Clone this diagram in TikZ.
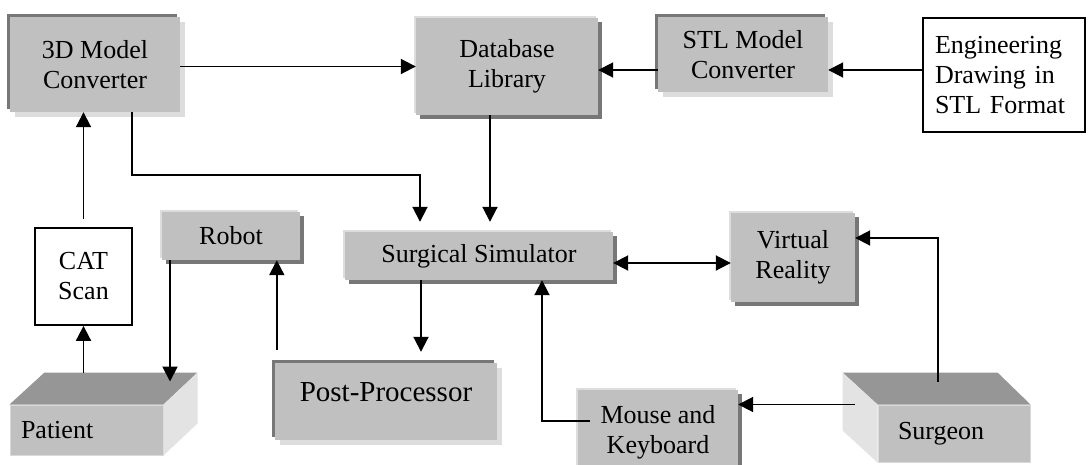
\documentclass[tikz,border=0pt]{standalone}
\usepackage{fontspec}
\setmainfont{Liberation Serif}
\usetikzlibrary{arrows.meta,shadows}
\definecolor{boxgray}{RGB}{192,192,192}
\definecolor{darkedge}{RGB}{119,119,119}
\definecolor{lightedge}{RGB}{221,221,221}
\definecolor{topface}{RGB}{150,150,150}
\definecolor{sideface}{RGB}{227,227,227}
\newcommand\boxfont{\fontsize{26}{30}\selectfont}
\begin{document}
\begin{tikzpicture}[x=1pt, y=-1pt,
  raised/.style={fill=boxgray, inner sep=0pt, align=center, font=\boxfont,
    general shadow={shadow xshift=4pt, shadow yshift=-4pt, fill=darkedge},
    general shadow={shadow xshift=-2pt, shadow yshift=2pt, fill=lightedge}},
  sunken/.style={fill=boxgray, inner sep=0pt, align=center, font=\boxfont,
    general shadow={shadow xshift=5pt, shadow yshift=-5pt, fill=lightedge},
    general shadow={shadow xshift=-3pt, shadow yshift=3pt, fill=darkedge}},
  plainbox/.style={draw, line width=1.8pt, fill=white, inner sep=0pt, font=\boxfont},
  face/.style={fill=boxgray, draw=black!15, line width=1pt, inner sep=0pt, font=\boxfont},
  arr/.style={line width=1.9pt, -{Triangle[length=15pt,width=15pt]}},
  arrtwo/.style={line width=1.9pt, {Triangle[length=15pt,width=15pt]}-{Triangle[length=15pt,width=15pt]}}]
\clip (0,0) rectangle (1088,464);
\def\dx{34}
\def\dy{32}

% top row
\node[sunken, minimum width=170, minimum height=95] (conv3d) at (95,64.5) {3D Model\\Converter};
\node[raised, minimum width=182, minimum height=97] (dblib) at (507,66.5) {Database\\Library};
\node[sunken, minimum width=170, minimum height=75] (stlconv) at (743,54.5) {STL Model\\Converter};
\node[plainbox, text width=138, inner xsep=12, minimum height=114, align=left] (engdraw) at (1004,75) {Engineering\\Drawing in\\STL Format};

% middle row
\node[plainbox, minimum width=97, minimum height=97, align=center] (catscan) at (83.5,276.5) {CAT\\Scan};
\node[raised, minimum width=138, minimum height=48] (robot) at (231,236) {Robot};
\node[raised, minimum width=268, minimum height=48] (surgsim) at (479,256) {Surgical Simulator};
\node[raised, minimum width=124, minimum height=89] (vr) at (793,257.5) {Virtual\\Reality};

% bottom row
\node[sunken, minimum width=222, minimum height=77, text height=21pt, text depth=21pt, font=\fontsize{29}{33}\selectfont] (pp) at (386,401.5) {Post-Processor};
\node[raised, minimum width=160, minimum height=85] (mouse) at (658,432.5) {Mouse and\\Keyboard};

% patient block
\node[face, text width=131, inner xsep=11, minimum height=50, align=left] (patient) at (86.5,430) {Patient};
\fill[topface] (patient.north west) -- (patient.north east) -- ([shift={(\dx,-\dy)}]patient.north east) -- ([shift={(\dx+1,-\dy)}]patient.north west) -- cycle;
\fill[sideface] (patient.north east) -- (patient.south east) -- ([shift={(\dx,-\dy)}]patient.south east) -- ([shift={(\dx,-\dy)}]patient.north east) -- cycle;
\coordinate (patientback) at ([yshift=32pt]patient.north west);
\coordinate (patientmid) at ([yshift=23pt]patient.north east);

% surgeon block
\node[face, text width=112, inner xsep=20, minimum height=57, align=left] (surgeon) at (954,433.5) {Surgeon};
\fill[topface] (surgeon.north west) -- (surgeon.north east) -- ([shift={(-\dx+1,-\dy)}]surgeon.north east) -- ([shift={(-\dx-1,-\dy)}]surgeon.north west) -- cycle;
\fill[sideface] (surgeon.north west) -- (surgeon.south west) -- ([shift={(-\dx-1,-\dy)}]surgeon.south west) -- ([shift={(-\dx-1,-\dy)}]surgeon.north west) -- cycle;

% edges
\coordinate (stlrow) at (0,70);
\coordinate (bend) at (420,175);
\draw[arr] (dblib.west -| conv3d.east) -- (dblib.west); % 3D model to library
\draw[arr] (stlconv.west |- stlrow) -- (dblib.east |- stlrow); % STL to library
\draw[arr] (engdraw.west |- stlrow) -- (stlconv.east |- stlrow); % drawing to STL
\draw[arr, shorten >=10pt] ([xshift=-17pt]dblib.south) -- ([xshift=-17pt]dblib.south |- surgsim.north); % library to simulator
\draw[arr, shorten >=10pt] ([xshift=37pt]conv3d.south) |- (bend) -- (bend |- surgsim.north); % 3D model to simulator
\draw[arr, shorten <=8pt] (catscan.north) -- (catscan.north |- conv3d.south); % scan to 3D model
\draw[arr] (catscan.south |- patientback) -- (catscan.south); % patient to scan
\draw[arr] ([xshift=-61pt]robot.south) -- ([xshift=-61pt]robot.south |- patientmid); % robot to patient
\draw[arr, shorten <=13pt] ([xshift=2pt]pp.north west) -- ([xshift=2pt]pp.north west |- robot.south); % post-processor to robot
\draw[arr, shorten >=11pt] ([xshift=-58pt]surgsim.south) -- ([xshift=-58pt]surgsim.south |- pp.north); % simulator to post-processor
\draw[arr] ([shift={(12,-11.5)}]mouse.west) -| ([xshift=63pt]surgsim.south); % mouse to simulator
\draw[arr] ([xshift=-23pt]surgeon.north west) -- (surgeon.north west -| mouse.east); % surgeon to mouse
\draw[arr] ([shift={(-16,-23)}]surgeon.north) |- ([yshift=19.5pt]vr.east); % surgeon to VR
\draw[arrtwo] ([yshift=-7pt]surgsim.east) -- ([yshift=-7pt]surgsim.east -| vr.west); % simulator and VR
\end{tikzpicture}
\end{document}
